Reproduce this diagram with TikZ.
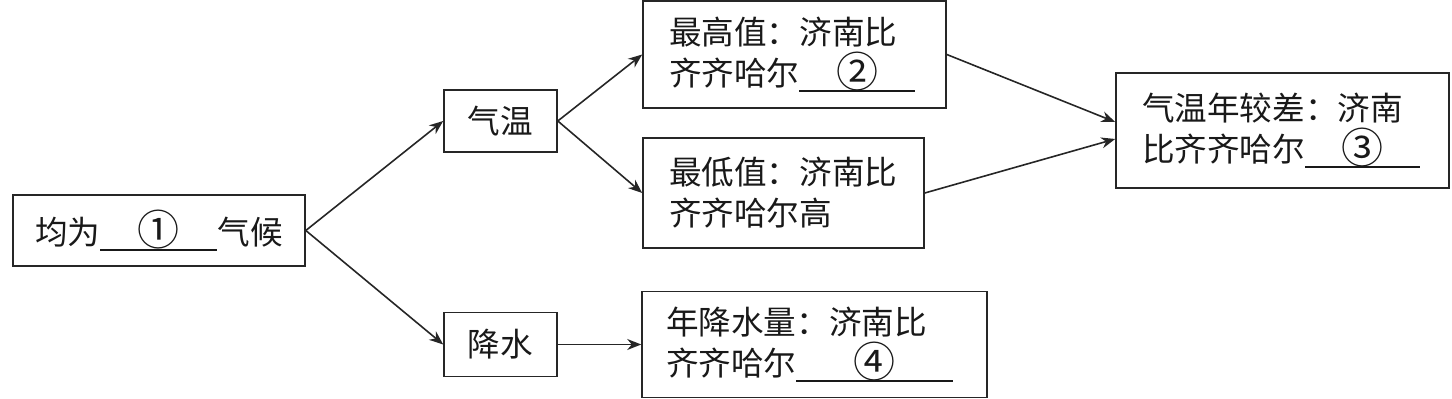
\documentclass[tikz,border=0pt]{standalone}
\usepackage{fontspec}
\newfontfamily\cjk{Noto Sans CJK SC}
\usetikzlibrary{arrows.meta}
\newcommand{\myblank}[2]{\rlap{\rule[-0.2em]{#1}{0.9pt}}\makebox[#1]{\raisebox{-0.05em}{\fontsize{21}{21}\selectfont #2}}}
\begin{document}
\begin{tikzpicture}[x=0.5pt,y=-0.5pt,
  box/.style={draw=black!85, text=black!90, line width=0.8pt,
    font=\cjk\fontsize{16.3}{20.5}\selectfont, inner ysep=0pt, inner xsep=13pt, align=left},
  conn/.style={draw=black!85, line width=0.8pt, -{Stealth[length=7pt,width=5.5pt]}}]
\useasboundingbox (0,0) rectangle (1452,399);

\node[box, align=center, inner xsep=0pt, minimum width=146pt, minimum height=35.5pt] (b1) at (159,230.5) {均为\myblank{58.5pt}{①}气候};
\node[box, align=center, inner xsep=0pt, minimum width=56.5pt, minimum height=31pt] (qw) at (500.5,121) {气温};
\node[box, align=center, inner xsep=0pt, minimum width=56.5pt, minimum height=32pt] (js) at (500.5,344.5) {降水};
\node[box, text width=125.5pt, minimum height=53.5pt] (zg) at (794.5,54.5) {最高值：济南比\\齐齐哈尔\myblank{58pt}{②}};
\node[box, text width=114.5pt, minimum height=55pt] (zd) at (783.5,193) {最低值：济南比\\齐齐哈尔高};
\node[box, inner xsep=12pt, text width=148.5pt, minimum height=53pt] (nj) at (814.5,344.5) {年降水量：济南比\\齐齐哈尔\myblank{78.5pt}{④}};
\node[box, text width=140.5pt, minimum height=57.5pt] (nc) at (1282.5,130.5) {气温年较差：济南\\比齐齐哈尔\myblank{57.5pt}{③}};

\draw[conn] (b1.east) -- (qw.west);
\draw[conn] (b1.east) -- (js.west);
\draw[conn] (qw.east) -- (zg.west);
\draw[conn] (qw.east) -- (zd.west);
\draw[conn] (js.east) -- (nj.west);
\draw[conn] (zg.east) -- ([yshift=4.25pt]nc.west);
\draw[conn] (zd.east) -- ([yshift=-4.25pt]nc.west);
\end{tikzpicture}
\end{document}
